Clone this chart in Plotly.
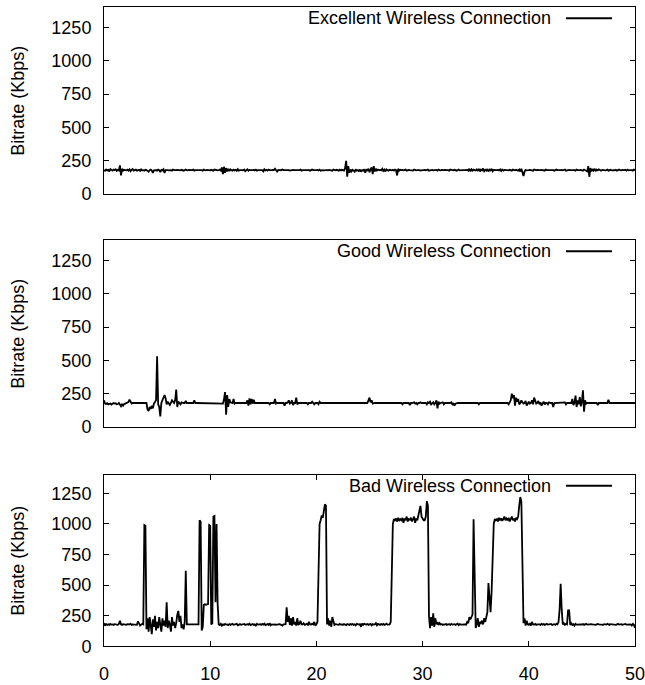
import numpy as np
import plotly.graph_objects as go
from plotly.subplots import make_subplots

# time axis: 0.0 .. 50.0 s in 0.1 s steps
time_s = np.round(np.arange(0, 501) * 0.1, 1)

excellent = [
    180,175,185,178,182,170,188,180,176,184,
    180,186,174,182,178,215,140,190,176,182,
    180,178,184,176,186,172,182,188,176,180,
    184,176,180,182,174,186,178,180,176,182,
    180,172,168,180,184,176,160,178,182,180,
    176,184,180,165,182,178,186,158,180,182,
    180,178,182,180,176,184,180,178,180,182,
    180,180,178,182,180,176,180,184,180,178,
    182,180,178,180,184,176,180,180,182,178,
    180,182,180,176,184,180,178,182,180,180,
    178,182,180,176,184,180,182,178,180,184,
    176,200,150,205,160,195,170,190,172,186,
    180,176,184,178,182,175,188,176,180,182,
    180,178,184,172,180,186,176,182,180,178,
    180,182,178,184,176,180,180,182,178,180,
    170,186,178,182,176,184,180,178,180,182,
    180,190,176,170,180,182,178,180,184,180,
    180,178,180,182,180,176,180,180,182,180,
    180,182,178,180,180,184,176,180,180,182,
    178,180,182,180,176,180,184,180,178,180,
    180,182,178,184,176,180,180,178,182,180,
    180,178,182,180,180,176,184,180,178,182,
    180,176,184,178,182,180,176,195,250,130,
    210,160,185,170,182,176,168,186,175,180,
    172,184,168,180,176,186,160,182,178,190,
    165,186,200,150,210,170,190,176,184,180,
    182,178,190,174,184,170,186,180,176,182,
    180,178,182,176,184,180,140,190,176,182,
    180,182,178,180,184,176,180,182,180,178,
    180,176,184,180,178,180,182,180,176,180,
    180,180,182,178,180,184,176,180,180,182,
    178,180,180,182,176,184,180,178,182,180,
    180,182,178,180,180,176,184,180,180,178,
    182,180,176,180,184,178,180,182,180,180,
    180,178,182,176,190,170,186,176,184,180,
    178,186,174,190,170,184,178,192,172,182,
    176,188,170,184,178,190,172,182,180,178,
    180,182,178,186,174,184,176,182,180,180,
    180,178,182,180,176,184,180,178,182,180,
    176,184,170,190,150,135,170,180,178,182,
    180,182,178,180,176,184,180,180,182,178,
    180,180,182,178,180,176,184,180,180,182,
    178,180,182,180,176,180,184,180,178,180,
    180,182,178,180,184,176,180,180,182,180,
    180,178,182,180,176,184,180,178,180,182,
    180,176,184,180,178,170,210,130,195,170,
    188,176,190,172,184,178,186,180,176,182,
    180,182,178,180,184,176,180,182,178,180,
    180,178,182,176,180,184,180,178,182,180,
    180,182,176,184,178,180,182,180,176,184,
    180,
]

good = [
    200,176,172,178,170,174,176,168,172,180,
    176,178,170,172,180,165,155,170,160,172,
    176,180,178,186,205,182,176,180,178,180,
    180,180,180,180,180,180,180,180,180,180,
    180,130,120,150,135,160,140,175,190,200,
    530,170,150,80,180,200,210,240,215,170,
    190,175,165,180,200,190,180,200,280,150,
    190,180,170,185,180,180,180,195,180,180,
    180,185,180,180,180,200,180,180,180,180,
    180,180,180,180,175,180,180,180,180,180,
    180,180,180,180,180,180,180,180,180,180,
    180,180,175,210,262,92,240,150,210,185,
    180,180,210,175,180,180,180,180,180,180,
    180,180,180,180,180,200,160,215,170,210,
    175,205,180,180,180,175,180,180,180,180,
    180,180,180,180,180,180,170,180,180,180,
    180,210,175,180,180,180,180,180,180,180,
    160,180,180,185,200,175,180,200,165,180,
    180,220,170,180,180,180,180,180,180,180,
    180,180,170,180,180,180,190,180,170,180,
    180,180,170,190,180,180,180,180,180,180,
    180,180,180,180,180,180,180,180,180,180,
    180,175,180,180,180,180,180,180,180,180,
    180,180,180,180,180,180,180,180,180,180,
    180,180,180,180,180,180,180,180,180,200,
    220,185,200,175,180,180,180,180,180,180,
    180,180,180,180,180,180,180,180,180,180,
    180,180,180,180,180,180,180,180,180,180,
    180,170,180,180,180,180,180,180,165,180,
    180,180,185,175,180,170,180,180,185,180,
    180,175,180,180,170,185,180,190,170,180,
    185,170,180,200,140,190,175,180,180,185,
    170,180,180,180,175,180,180,185,170,180,
    160,175,180,180,180,180,180,180,180,180,
    180,180,180,180,180,180,180,180,180,180,
    180,180,180,170,180,180,180,180,180,180,
    180,180,180,180,180,180,180,180,180,180,
    180,180,180,180,180,180,180,180,180,180,
    180,170,185,200,250,215,240,160,220,190,
    210,170,180,200,185,175,180,195,160,180,
    190,175,180,200,170,220,185,175,180,195,
    170,185,160,180,190,170,180,180,170,185,
    180,180,180,150,180,180,180,180,180,180,
    180,180,180,180,185,170,180,180,180,180,
    180,210,165,180,235,150,200,170,225,155,
    190,275,115,200,175,180,180,180,180,180,
    180,180,180,180,180,165,180,180,180,180,
    180,180,180,180,180,205,180,180,180,180,
    180,180,180,180,180,180,180,180,180,180,
    180,175,180,180,180,180,180,180,180,180,
    180,
]

bad = [
    190,170,182,175,180,176,184,178,180,176,
    182,178,180,176,184,210,180,176,182,178,
    180,176,182,178,180,184,176,180,178,182,
    180,176,205,180,170,178,184,180,990,985,
    140,230,120,240,180,100,220,160,250,130,
    200,150,240,180,120,230,170,210,160,360,
    150,210,180,120,240,170,200,150,190,260,
    290,200,250,150,180,140,200,617,180,180,
    180,180,180,180,180,180,180,180,180,180,
    1030,1020,130,160,340,345,340,345,345,990,
    985,180,190,1060,1065,360,1000,350,180,175,
    185,170,180,176,184,178,180,174,182,176,
    180,184,176,180,178,184,172,180,182,176,
    180,178,184,176,180,182,178,186,174,180,
    182,176,180,170,184,178,180,182,176,184,
    178,186,174,180,182,176,190,172,180,178,
    182,180,176,180,178,182,180,176,170,180,
    178,182,320,200,250,175,230,170,240,180,
    200,170,230,175,185,210,180,180,190,176,
    180,184,176,200,180,178,186,180,200,170,
    180,200,600,1000,1030,1070,1050,1100,1160,1150,
    180,230,170,210,160,240,190,175,182,178,
    180,176,184,178,180,176,182,180,174,182,
    180,176,184,178,182,176,180,172,184,180,
    178,182,160,186,176,184,180,178,182,176,
    180,184,172,182,178,180,190,172,184,180,
    176,182,178,184,176,180,186,178,182,180,
    200,620,1000,1040,1030,1045,1020,1050,1030,1040,
    1030,1050,1010,1045,1030,1060,1020,1040,1035,1050,
    1020,1040,1060,1010,1045,1030,1070,1100,1148,1060,
    1040,1030,1030,1060,1186,1150,250,150,240,170,
    270,160,230,180,200,175,190,180,182,176,
    180,178,184,176,180,182,176,184,178,180,
    182,176,180,186,174,182,178,180,176,184,
    180,178,200,190,240,220,250,260,1039,500,
    150,180,230,160,200,190,210,180,230,200,
    240,280,517,350,280,450,750,1000,1040,1030,
    1040,1020,1050,1030,1045,1025,1040,1060,1030,1045,
    1030,1050,1020,1040,1060,1030,1045,1020,1050,1040,
    1060,1150,1220,1180,600,190,230,170,210,180,
    176,190,170,200,180,178,184,176,180,182,
    180,176,184,178,182,176,180,184,178,180,
    180,184,176,180,182,176,184,180,200,300,
    511,300,180,190,176,184,180,295,295,175,
    190,176,182,170,184,178,180,176,182,180,
    178,182,176,180,184,178,180,176,180,182,
    180,178,182,176,180,184,180,178,182,180,
    176,182,180,178,184,180,176,182,180,178,
    182,180,176,180,184,178,180,182,176,180,
    180,184,178,180,176,182,180,170,184,176,
    150,
]

series_names = ["Excellent Wireless Connection",
                "Good Wireless Connection",
                "Bad Wireless Connection"]
series_values = [excellent, good, bad]
y_tick_vals = [0, 250, 500, 750, 1000, 1250]
x_tick_vals = [0, 10, 20, 30, 40, 50]
y_title = "Bitrate (Kbps)"

FONT = "Liberation Sans, Arial, Helvetica, sans-serif"
W, H = 645, 685
L, R = 104, 10

# panel pixel extents (top, bottom)
panels_px = [(7.5, 197.0), (244.0, 433.3), (482.0, 656.0)]
domains = [[1 - b / H, 1 - t / H] for (t, b) in panels_px]

fig = make_subplots(rows=3, cols=1, shared_xaxes=False)

for i, (name, vals) in enumerate(zip(series_names, series_values)):
    fig.add_trace(go.Scatter(x=time_s, y=vals, mode="lines", name=name,
                             line=dict(color="black", width=1.8),
                             showlegend=False), row=i + 1, col=1)

for i in range(3):
    ax = "" if i == 0 else str(i + 1)
    last = (i == 2)
    fig.update_layout(**{
        f"xaxis{ax}": dict(range=[0, 50], domain=[0, 1], showline=True, linecolor="black",
                           linewidth=1, mirror="allticks" if last else True,
                           ticks="inside" if last else "", ticklen=5, tickcolor="black",
                           tickvals=x_tick_vals, showticklabels=last, showgrid=False,
                           zeroline=False, ticklabelstandoff=11, ticklabeloverflow="allow",
                           tickfont=dict(family=FONT, size=18, color="black")),
        f"yaxis{ax}": dict(range=[0, 1400], domain=domains[i], showline=True, linecolor="black",
                           linewidth=1, mirror="allticks", ticks="inside", ticklen=5,
                           tickcolor="black", tickvals=y_tick_vals, showgrid=False,
                           zeroline=False, ticklabelstandoff=8, ticklabeloverflow="allow",
                           tickfont=dict(family=FONT, size=18, color="black")),
    })
    top_px, bot_px = panels_px[i]
    # y-axis title
    fig.add_annotation(text=y_title, xref="paper", yref="paper",
                       x=(18 - L) / (W - L - R), y=1 - (top_px + bot_px) / 2 / H,
                       textangle=-90, showarrow=False, xanchor="center", yanchor="middle",
                       font=dict(family=FONT, size=18, color="black"))
    # legend key: text followed by line sample
    key_y = 1 - (top_px + 11) / H
    fig.add_annotation(text=series_names[i], xref="paper", yref="paper",
                       x=(553 - L) / (W - L - R), y=key_y, showarrow=False,
                       xanchor="right", yanchor="middle",
                       font=dict(family=FONT, size=18, color="black"))
    fig.add_shape(type="line", xref="paper", yref="paper",
                  x0=(566 - L) / (W - L - R), x1=(612 - L) / (W - L - R),
                  y0=key_y, y1=key_y, line=dict(color="black", width=2))

fig.update_layout(width=W, height=H, margin=dict(l=L, r=R, t=0, b=0),
                  paper_bgcolor="white", plot_bgcolor="white",
                  font=dict(family=FONT, size=18, color="black"))

fig.write_html("out.html", config={"displayModeBar": False},
               post_script="document.body.style.margin='0';document.body.style.overflow='hidden';")
